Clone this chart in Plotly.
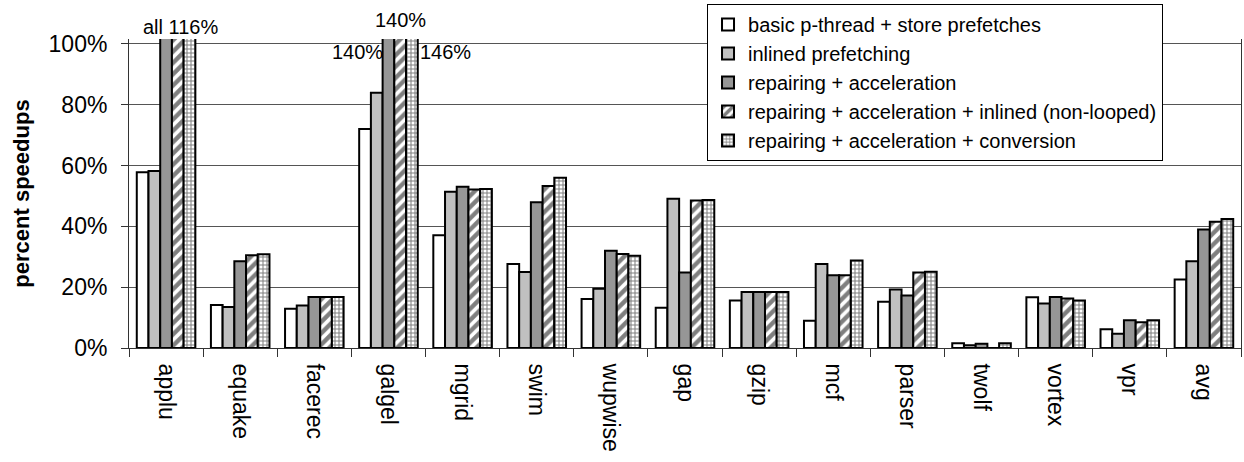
import plotly.graph_objects as go

categories = ["applu", "equake", "facerec", "galgel", "mgrid", "swim", "wupwise",
              "gap", "gzip", "mcf", "parser", "twolf", "vortex", "vpr", "avg"]

basic_pthread = [57.8, 14.1, 12.9, 72.0, 37.1, 27.6, 16.1, 13.2, 15.6, 9.0, 15.2, 1.6, 16.7, 6.2, 22.5]
inlined_prefetching = [58.2, 13.5, 14.0, 83.9, 51.4, 25.0, 19.5, 49.1, 18.4, 27.6, 19.2, 0.9, 14.6, 4.7, 28.5]
repairing_accel = [116, 28.5, 16.8, 140, 53.0, 47.9, 32.0, 24.8, 18.4, 23.9, 17.3, 1.4, 16.8, 9.1, 39.0]
repairing_accel_inlined = [116, 30.5, 16.8, 140, 52.1, 53.3, 30.9, 48.5, 18.4, 23.9, 24.8, 0.0, 16.3, 8.5, 41.5]
repairing_accel_conv = [116, 30.8, 16.8, 146, 52.3, 56.0, 30.3, 48.7, 18.4, 28.8, 25.1, 1.6, 15.6, 9.1, 42.4]

series_names = ["basic p-thread + store prefetches", "inlined prefetching",
                "repairing + acceleration",
                "repairing + acceleration + inlined (non-looped)",
                "repairing + acceleration + conversion"]

y_ticks = [0, 20, 40, 60, 80, 100]

FONT = "Arial, Liberation Sans, sans-serif"

fig = go.Figure()
series = [basic_pthread, inlined_prefetching, repairing_accel, repairing_accel_inlined, repairing_accel_conv]
styles = [
    dict(color="white"),
    dict(color="#c0c0c0"),
    dict(color="#969696"),
    dict(color="white", pattern=dict(shape="/", fgcolor="black", bgcolor="white", size=8, solidity=0.55)),
    dict(color="white", pattern=dict(shape="+", fgcolor="black", bgcolor="white", size=4, solidity=0.45)),
]
for name, vals, st in zip(series_names, series, styles):
    fig.add_trace(go.Bar(
        x=categories, y=vals, name=name,
        marker=dict(line=dict(color="black", width=2), **st),
    ))

annotations = [
    dict(x="applu", y=1.039, text="all 116%", xshift=14),
    dict(x="galgel", y=1.061, text="140%", xshift=12),
    dict(x="galgel", y=0.958, text="140%", xshift=-31),
    dict(x="galgel", y=0.958, text="146%", xshift=57),
]
for a in annotations:
    fig.add_annotation(x=a["x"], y=a["y"], xref="x", yref="paper", text=a["text"],
                       showarrow=False, xshift=a["xshift"], xanchor="center", yanchor="middle",
                       font=dict(size=20, color="black", family=FONT))

fig.update_layout(
    width=1244, height=462,
    margin=dict(l=129, r=3, t=39, b=114, autoexpand=False),
    plot_bgcolor="white", paper_bgcolor="white",
    barmode="group", bargap=0.21, bargroupgap=0,
    font=dict(family=FONT, size=23, color="black"),
    showlegend=True,
    legend=dict(x=0.5198, y=1.113, xanchor="left", yanchor="top",
                bgcolor="white", bordercolor="black", borderwidth=1,
                font=dict(size=20, family=FONT), traceorder="normal",
                itemwidth=30),
)
fig.update_xaxes(
    type="category", tickangle=90, ticks="outside", tickson="boundaries",
    ticklen=8, tickcolor="#333", showline=True, linecolor="#333", linewidth=1,
    tickfont=dict(size=23), showgrid=False, automargin=False, ticklabelstandoff=10,
)
fig.update_yaxes(
    range=[0, 101.6], tickvals=y_ticks, ticktext=[f"{v}%" for v in y_ticks],
    ticks="outside", ticklen=7, tickcolor="#333", showline=True, mirror=True,
    linecolor="#333", linewidth=1, showgrid=True, gridcolor="#555", gridwidth=1,
    tickfont=dict(size=23), zeroline=False, automargin=False, ticklabelstandoff=9,
    title=dict(text="<b>percent speedups</b>", font=dict(size=22), standoff=12),
)
fig.write_html("out.html", config={"displayModeBar": False},
               post_script="document.body.style.margin='0';document.body.style.overflow='hidden';")
